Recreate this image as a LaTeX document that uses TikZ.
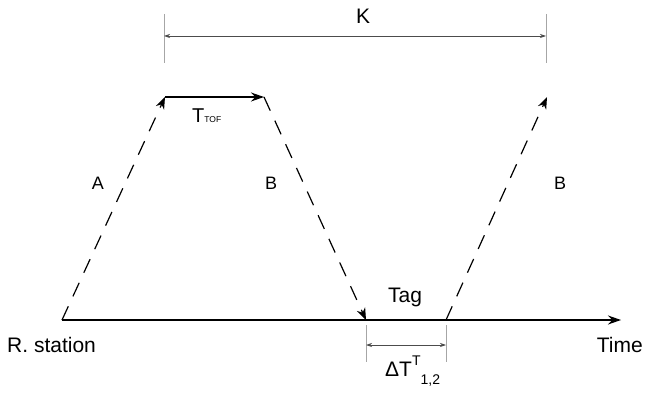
\documentclass[tikz,border=0pt]{standalone}
\usepackage{fontspec}
\setmainfont{Liberation Sans}
\usetikzlibrary{arrows.meta}
\begin{document}
\begin{tikzpicture}[x=1pt,y=-1pt,
  lbl/.style={inner sep=0pt,font=\fontsize{21}{24}\selectfont},
  sml/.style={inner sep=0pt,font=\fontsize{18}{21}\selectfont},
  dashsig/.style={line width=1.2pt,dash pattern=on 15pt off 11pt,-{Stealth[length=12pt,width=9pt]}},
  solidarrow/.style={line width=1.2pt,-{Stealth[length=13pt,width=9pt]}},
  dimline/.style={line width=0.7pt,gray!60!black,{Stealth[length=6pt,width=4pt]}-{Stealth[length=6pt,width=4pt]}},
  ticker/.style={line width=0.7pt,gray!70}]
\useasboundingbox (0,0) rectangle (647,395);
% coordinates
\coordinate (t0) at (62,320);
\coordinate (tend) at (621,320);
\coordinate (top1) at (165,97);
\coordinate (top2) at (264,97);
\coordinate (rx) at (366,320);
\coordinate (tx) at (446,320);
\coordinate (top3) at (547,97);
% time axis
\draw[solidarrow] (t0) -- (tend);
% signals
\draw[dashsig] (t0) -- (top1);
\draw[solidarrow] (top1) -- (top2);
\draw[dashsig] (top2) -- (rx);
\draw[dashsig] (tx) -- (top3);
% K dimension
\coordinate (k1a) at (164,14); \coordinate (k1b) at (164,63);
\coordinate (k2a) at (546,14); \coordinate (k2b) at (546,63);
\draw[ticker] (k1a) -- (k1b);
\draw[ticker] (k2a) -- (k2b);
\coordinate (ka) at (164,36); \coordinate (kb) at (546,36);
\draw[dimline] (ka) -- (kb);
% delta T dimension
\coordinate (d1a) at (366,325); \coordinate (d1b) at (366,362);
\coordinate (d2a) at (446,325); \coordinate (d2b) at (446,362);
\draw[ticker] (d1a) -- (d1b);
\draw[ticker] (d2a) -- (d2b);
\coordinate (da) at (366,345); \coordinate (db) at (446,345);
\draw[dimline] (da) -- (db);
% labels
\node[lbl,anchor=base] (K) at (363,24) {K};
\node[sml] (A) at (98,183) {A};
\node[sml] (B1) at (271,183) {B};
\node[sml] (B2) at (560,183) {B};
\node[inner sep=0pt,anchor=base west] (tof) at (192,123) {\fontsize{20}{22}\selectfont T\fontsize{8.5}{10}\selectfont TOF};
\node[lbl,anchor=base] (tag) at (405,302) {Tag};
\node[lbl,anchor=base west] (rs) at (7,352) {R. station};
\node[lbl,anchor=base east] (time) at (643,352) {Time};
\node[inner sep=0pt,anchor=base west] (dt) at (385,376) {\fontsize{21}{24}\selectfont ΔT\raisebox{11pt}{\fontsize{14}{16}\selectfont T}\raisebox{-8pt}{\fontsize{14}{16}\selectfont 1,2}};
\end{tikzpicture}
\end{document}
